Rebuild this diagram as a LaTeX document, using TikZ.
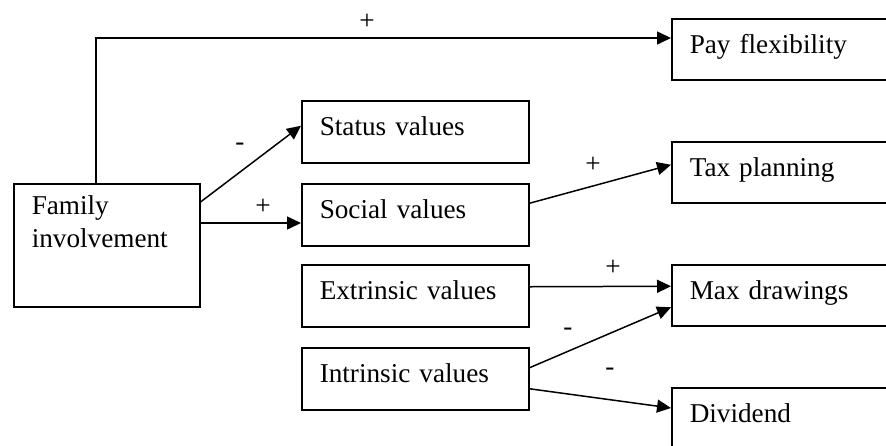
\documentclass[tikz,border=0pt]{standalone}
\usepackage{fontspec}
\setmainfont{Liberation Serif}
\usetikzlibrary{arrows.meta}
\tikzset{
  box/.style={draw, line width=0.75pt, anchor=north west, inner xsep=9pt, inner ysep=0pt,
              align=left, text height=10pt, text depth=6pt},
  midbox/.style={box, text width=95.5pt, minimum height=31pt},
  rbox/.style={box, text width=121.5pt, minimum height=30.5pt},
  arr/.style={line width=0.75pt, -{Triangle[length=7pt,width=6.5pt]}},
  lbl/.style={inner sep=0pt}
}
\begin{document}
\begin{tikzpicture}[x=0.5pt,y=-0.5pt,font=\fontsize{13.6}{16.5}\selectfont]
\useasboundingbox (0,0) rectangle (886,445);
\clip (0,0) rectangle (886,445);
% boxes
\node[box, text width=75pt, minimum height=61.5pt, text height=10pt, text depth=40.5pt] (fam) at (13,183) {Family\\involvement};
\node[midbox] (status) at (301,100) {Status values};
\node[midbox] (social) at (301,183) {Social values};
\node[midbox] (ext) at (301,264) {Extrinsic values};
\node[midbox] (intr) at (301,347) {Intrinsic values};
\node[rbox] (pay) at (671,18) {Pay flexibility};
\node[rbox] (tax) at (671,141) {Tax planning};
\node[rbox] (max) at (671,264) {Max drawings};
\node[rbox, minimum height=31pt] (div) at (671,387) {Dividend};
% connectors
\draw[arr] ([xshift=41.5pt]fam.north west) |- ([yshift=-10pt]pay.north west);
\draw[arr] ([yshift=-9.5pt]fam.north east) -- ([yshift=3pt]status.west);
\draw[arr] ([yshift=-20pt]fam.north east) coordinate (fs) -- (fs -| social.west);
\draw[arr] ([yshift=5.75pt]social.east) -- ([yshift=3.75pt]tax.west);
\draw[arr] ([yshift=4.5pt]ext.east) -- ([yshift=4.5pt]max.west);
\draw[arr] ([yshift=5.5pt]intr.east) -- ([yshift=-6pt]max.west);
\draw[arr] ([yshift=-5pt]intr.east) -- ([yshift=-10.5pt]div.north west);
% sign labels
\node[lbl] (s1) at (367,22) {+};
\node[lbl] (s2) at (240,147) {-};
\node[lbl] (s3) at (263,207) {+};
\node[lbl] (s4) at (593,165) {+};
\node[lbl] (s5) at (613,268) {+};
\node[lbl] (s6) at (568,332) {-};
\node[lbl] (s7) at (610,372) {-};
\end{tikzpicture}
\end{document}
